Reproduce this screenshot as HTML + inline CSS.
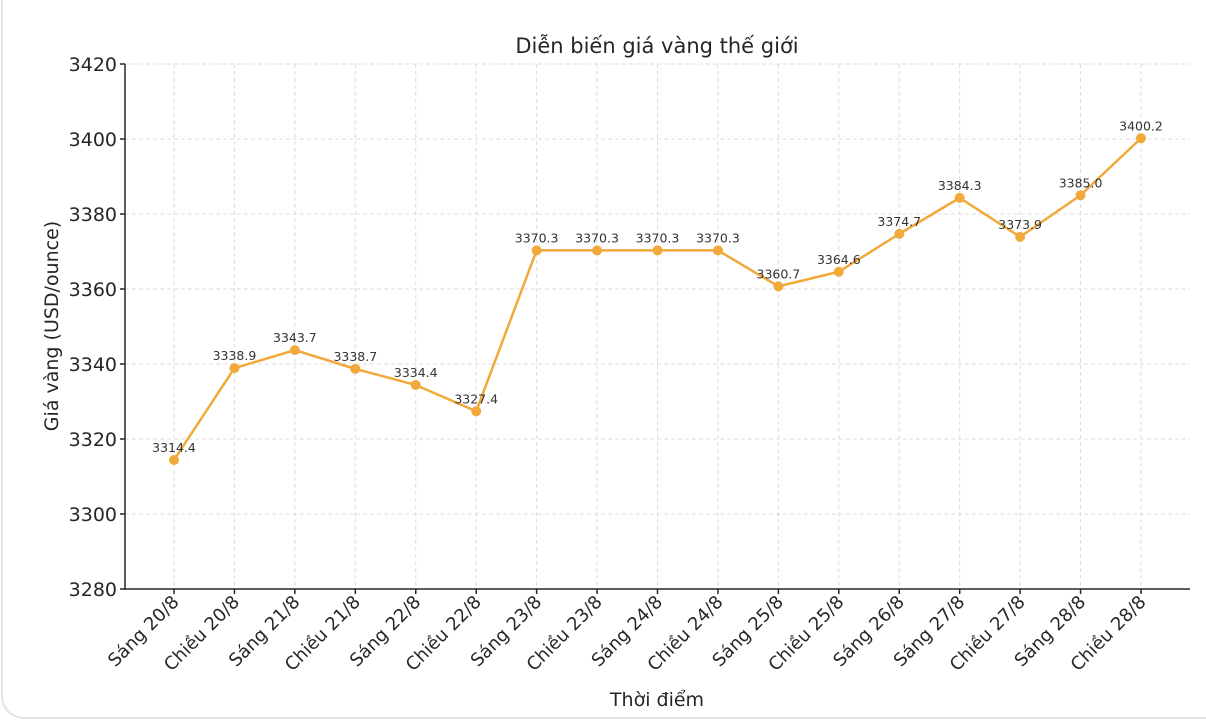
<!DOCTYPE html>
<html><head><meta charset="utf-8"><style>
html,body{margin:0;padding:0;background:#fff;}
svg{display:block;font-family:"DejaVu Sans","Liberation Sans",sans-serif;}
</style></head><body>
<svg id="chart" width="1206" height="720" viewBox="0 0 1206 720">
<rect x="2" y="-20" width="1240" height="738" rx="22" fill="#fff" stroke="#e4e4e4" stroke-width="2"/>
<text x="657" y="53" text-anchor="middle" font-size="21" fill="#262626">Diễn biến giá vàng thế giới</text>
<g id="grid"></g>
<g id="axes"></g>
<g id="series"></g>
<text x="657" y="706" text-anchor="middle" font-size="19" fill="#262626">Thời điểm</text>
<text transform="translate(58,326) rotate(-90)" text-anchor="middle" font-size="19" fill="#262626">Giá vàng (USD/ounce)</text>
</svg>
<script>
const categories = ["Sáng 20/8","Chiều 20/8","Sáng 21/8","Chiều 21/8","Sáng 22/8","Chiều 22/8","Sáng 23/8","Chiều 23/8","Sáng 24/8","Chiều 24/8","Sáng 25/8","Chiều 25/8","Sáng 26/8","Sáng 27/8","Chiều 27/8","Sáng 28/8","Chiều 28/8"];
const prices = [3314.4,3338.9,3343.7,3338.7,3334.4,3327.4,3370.3,3370.3,3370.3,3370.3,3360.7,3364.6,3374.7,3384.3,3373.9,3385.0,3400.2];
const yTicks = [3280,3300,3320,3340,3360,3380,3400,3420];

const NS="http://www.w3.org/2000/svg";
const L=125,R=1190,T=64,B=589,yMin=3280,yMax=3420;
const x0=174,x1=1141;
function xs(i){return x0+(x1-x0)*i/(categories.length-1);}
function ys(v){return B-(v-yMin)/(yMax-yMin)*(B-T);}
function mk(tag,attrs,parent){const e=document.createElementNS(NS,tag);for(const k in attrs)e.setAttribute(k,attrs[k]);parent.appendChild(e);return e;}
const grid=document.getElementById('grid'),axes=document.getElementById('axes'),series=document.getElementById('series');

yTicks.forEach(v=>{
  const y=ys(v);
  const g=mk('line',{x1:L,x2:R,y1:y,y2:y,stroke:'#dcdcdc','stroke-dasharray':'4,3','stroke-width':1},grid);
  
  
  const t=mk('line',{x1:L-5,x2:L,y1:y,y2:y,stroke:'#262626','stroke-width':1.5},axes);
  
  
  const lb=mk('text',{x:L-8,y:y+7,'text-anchor':'end','font-size':19,fill:'#262626'},axes);
  lb.textContent=v;
  
  
});
categories.forEach((c,i)=>{
  const x=xs(i);
  const g=mk('line',{x1:x,x2:x,y1:T,y2:B,stroke:'#dcdcdc','stroke-dasharray':'4,3','stroke-width':1},grid);
  
  
  const t=mk('line',{x1:x,x2:x,y1:B,y2:B+5,stroke:'#262626','stroke-width':1.5},axes);
  
  
  const lb=mk('text',{transform:`translate(${x+6},${B+14}) rotate(-45)`,'text-anchor':'end','font-size':18,fill:'#262626'},axes);
  lb.textContent=c;
  
  
});
const ax=mk('path',{d:`M${L},${T} V${B} H${R}`,fill:'none',stroke:'#262626','stroke-width':1.5},axes);



const line=mk('polyline',{points:prices.map((v,i)=>xs(i)+','+ys(v)).join(' '),fill:'none',stroke:'#F0A93A','stroke-width':2.5,'stroke-linejoin':'round'},series);


prices.forEach((v,i)=>{
  const p=mk('circle',{cx:xs(i),cy:ys(v),r:5,fill:'#F0A93A'},series);
  
  
  const t=mk('text',{x:xs(i),y:ys(v)-8,'text-anchor':'middle','font-size':12.5,fill:'#333'},series);
  t.textContent=v.toFixed(1);
  
  
});
</script>
</body></html>
